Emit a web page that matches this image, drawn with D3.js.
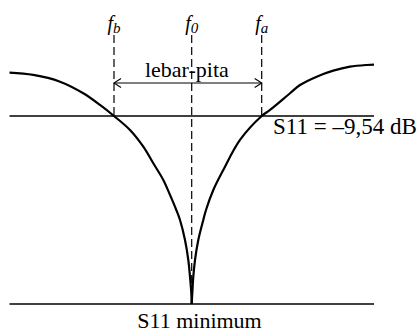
<!DOCTYPE html>
<html><head><meta charset="utf-8">
<script src="https://d3js.org/d3.v7.min.js"></script>
<style>
html,body{margin:0;padding:0;background:#fff;}
svg{display:block;font-family:"Liberation Serif","Times New Roman",serif;}
</style></head>
<body><svg id="c" width="419" height="333"></svg>
<script>
// frequency (GHz-like units) and S11 (dB)
const leftFreq = [2.2178,2.2416,2.2683,2.2916,2.3083,2.3223,2.3383,2.3516,2.3616,2.3716,2.3783,2.3843,2.3883,2.3933,2.3966,2.3983,2.3996,2.4000];
const leftS11  = [-3.67,-3.98,-4.89,-6.46,-8.04,-9.54,-11.43,-13.69,-15.94,-18.20,-20.23,-22.17,-23.62,-26.33,-29.04,-31.30,-33.50,-35.0];
const rightFreq = [2.4000,2.4006,2.4016,2.4033,2.4066,2.4116,2.4143,2.4216,2.4316,2.4483,2.4700,2.4783,2.4983,2.5083,2.5250,2.5416,2.5583,2.5750,2.5823];
const rightS11  = [-35.0,-33.50,-31.30,-29.04,-26.33,-23.62,-22.27,-19.56,-16.85,-12.78,-9.54,-8.72,-6.46,-5.34,-4.21,-3.40,-2.86,-2.63,-2.59];
const markerNames = ["b","0","a"];
const markerFreq = [2.3223,2.4000,2.4700];
const threshold = -9.54;
const minimum = -35.0;
const freqExtent = [2.2178,2.5823];
const thresholdLabel = "S11 = \u20139,54 dB";
const minimumLabel = "S11 minimum";
const bandLabel = "lebar-pita";

const svg = d3.select("#c");
const x = d3.scaleLinear().domain([2.3223,2.4700]).range([114,261.7]);
const y = d3.scaleLinear().domain([-35,-9.54]).range([304,116]);

// horizontal lines
[threshold, minimum].forEach(v=>{
  svg.append("line").attr("x1",x(freqExtent[0])).attr("x2",x(freqExtent[1]))
    .attr("y1",y(v)).attr("y2",y(v)).attr("stroke","#000").attr("stroke-width",1.5);
});

// dashed marker lines
markerFreq.forEach((f,i)=>{
  const bottom = i===1 ? y(minimum) : y(threshold);
  svg.append("line").attr("x1",x(f)).attr("x2",x(f)).attr("y1",35).attr("y2",bottom)
    .attr("stroke","#000").attr("stroke-width",1.2).attr("stroke-dasharray","8,4");
});

// curves
const line = d3.line().x(d=>x(d[0])).y(d=>y(d[1])).curve(d3.curveCatmullRom.alpha(0.5));
const L = leftFreq.map((f,i)=>[f,leftS11[i]]);
const R = rightFreq.map((f,i)=>[f,rightS11[i]]);
[L,R].forEach(d=>{
  svg.append("path").attr("d",line(d)).attr("fill","none").attr("stroke","#000").attr("stroke-width",2.2);
});

// bandwidth arrow
const ay = 83;
const xa = x(markerFreq[0]), xb = x(markerFreq[2]);
svg.append("line").attr("x1",xa).attr("x2",xb).attr("y1",ay).attr("y2",ay).attr("stroke","#000").attr("stroke-width",1.1);
svg.append("path").attr("d",`M${xa+7},${ay-4.5}L${xa},${ay}L${xa+7},${ay+4.5}`).attr("fill","none").attr("stroke","#000").attr("stroke-width",1.1);
svg.append("path").attr("d",`M${xb-7},${ay-4.5}L${xb},${ay}L${xb-7},${ay+4.5}`).attr("fill","none").attr("stroke","#000").attr("stroke-width",1.1);

svg.append("text").attr("x",(xa+xb)/2-1).attr("y",77).attr("text-anchor","middle")
  .attr("font-size",22).text(bandLabel);

// marker labels
markerFreq.forEach((f,i)=>{
  const t = svg.append("text").attr("x",x(f)).attr("y",30).attr("text-anchor","middle")
    .attr("font-style","italic").attr("font-size",20);
  t.append("tspan").text("f");
  t.append("tspan").attr("dy",3).attr("font-size",15).text(markerNames[i]);
});

svg.append("text").attr("x",273).attr("y",134).attr("font-size",23).text(thresholdLabel);
svg.append("text").attr("x",199.5).attr("y",328).attr("text-anchor","middle").attr("font-size",22).text(minimumLabel);
</script></body></html>
